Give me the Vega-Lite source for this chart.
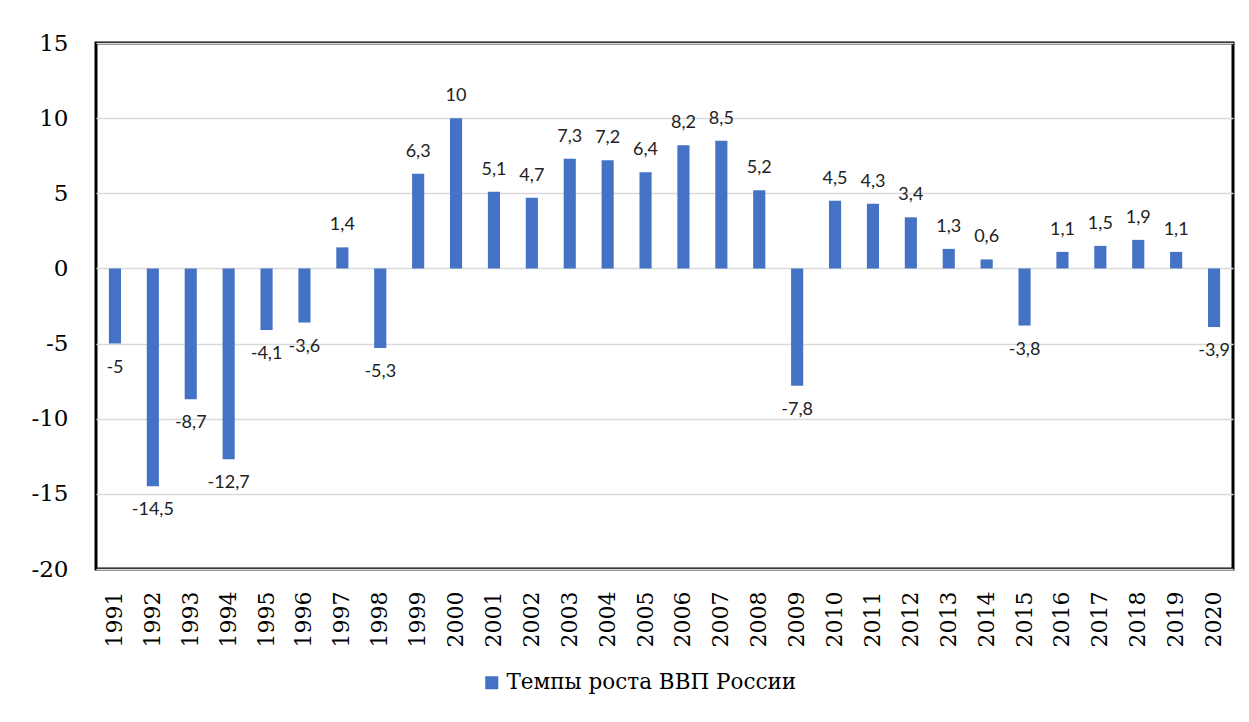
{
  "$schema": "https://vega.github.io/schema/vega-lite/v6.json",
  "width": 1137,
  "height": 526,
  "autosize": {"type": "none"},
  "padding": {"left": 96, "top": 43, "right": 16, "bottom": 153},
  "background": "white",
  "config": {
    "locale": {"number": {"decimal": ",", "thousands": " ", "grouping": [3], "currency": ["", ""], "minus": "-"}},
    "view": {"stroke": "black", "strokeWidth": 3},
    "axis": {"domain": false, "ticks": false}
  },
  "data": {"values": [
    {"year": "1991", "growth": -5},
    {"year": "1992", "growth": -14.5},
    {"year": "1993", "growth": -8.7},
    {"year": "1994", "growth": -12.7},
    {"year": "1995", "growth": -4.1},
    {"year": "1996", "growth": -3.6},
    {"year": "1997", "growth": 1.4},
    {"year": "1998", "growth": -5.3},
    {"year": "1999", "growth": 6.3},
    {"year": "2000", "growth": 10},
    {"year": "2001", "growth": 5.1},
    {"year": "2002", "growth": 4.7},
    {"year": "2003", "growth": 7.3},
    {"year": "2004", "growth": 7.2},
    {"year": "2005", "growth": 6.4},
    {"year": "2006", "growth": 8.2},
    {"year": "2007", "growth": 8.5},
    {"year": "2008", "growth": 5.2},
    {"year": "2009", "growth": -7.8},
    {"year": "2010", "growth": 4.5},
    {"year": "2011", "growth": 4.3},
    {"year": "2012", "growth": 3.4},
    {"year": "2013", "growth": 1.3},
    {"year": "2014", "growth": 0.6},
    {"year": "2015", "growth": -3.8},
    {"year": "2016", "growth": 1.1},
    {"year": "2017", "growth": 1.5},
    {"year": "2018", "growth": 1.9},
    {"year": "2019", "growth": 1.1},
    {"year": "2020", "growth": -3.9}
  ]},
  "encoding": {
    "x": {
      "field": "year", "type": "ordinal",
      "scale": {"paddingInner": 0.68, "paddingOuter": 0.34},
      "axis": {"title": null, "labelAngle": -90, "labelFont": "DejaVu Serif", "labelFontSize": 22, "labelColor": "black", "labelPadding": 22, "grid": false, "labelBaseline": "middle"}
    },
    "y": {
      "field": "growth", "type": "quantitative",
      "scale": {"domain": [-20, 15], "nice": false},
      "axis": {"title": null, "values": [-20, -15, -10, -5, 0, 5, 10, 15], "labelFont": "DejaVu Serif", "labelFontSize": 23, "labelColor": "black", "labelPadding": 28, "gridColor": "#d9d9d9", "gridWidth": 1.5, "format": "d"}
    }
  },
  "layer": [
    {
      "mark": {"type": "bar", "color": "#4472C4"},
      "encoding": {
        "color": {
          "datum": "Темпы роста ВВП России", "type": "nominal",
          "scale": {"range": ["#4472C4"]},
          "legend": {"title": null, "orient": "none", "legendX": 385, "legendY": 629, "labelFont": "DejaVu Serif", "labelFontSize": 21.5, "labelLimit": 0, "labelColor": "black", "symbolType": "square", "symbolSize": 170, "symbolStrokeWidth": 0, "symbolOpacity": 1, "labelOffset": 4}
        }
      }
    },
    {
      "transform": [{"filter": "datum.growth >= 0"}],
      "mark": {"type": "text", "font": "Lato", "fontSize": 18, "color": "#222", "baseline": "middle", "dy": -22},
      "encoding": {"text": {"field": "growth", "type": "quantitative", "format": ".1~f"}}
    },
    {
      "transform": [{"filter": "datum.growth < 0"}],
      "mark": {"type": "text", "font": "Lato", "fontSize": 18, "color": "#222", "baseline": "middle", "dy": 24},
      "encoding": {"text": {"field": "growth", "type": "quantitative", "format": ".1~f"}}
    }
  ]
}
